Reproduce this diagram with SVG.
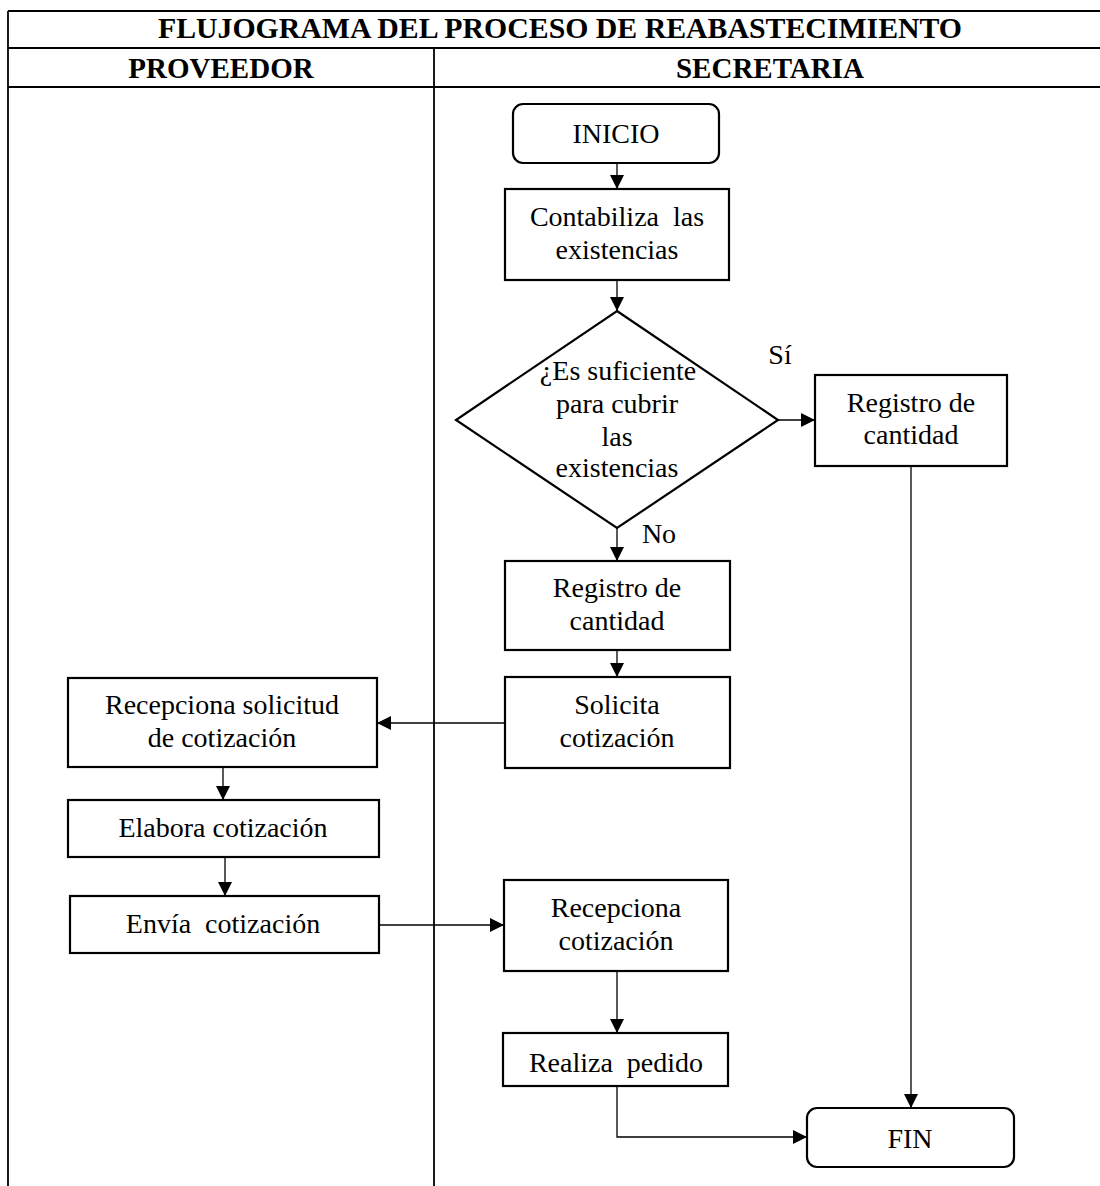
<svg xmlns="http://www.w3.org/2000/svg" width="1100" height="1186" viewBox="0 0 1100 1186">
  <style>
    .grid { stroke: #000; stroke-width: 1.8; fill: none; }
    .box { fill: #fff; stroke: #000; stroke-width: 2.2; }
    .link { fill: none; stroke: #000; stroke-width: 1.3; }
    .head { font-family: "Liberation Serif", "Times New Roman", serif; font-weight: bold; font-size: 29px; text-anchor: middle; fill: #000; }
    .title { font-size: 29.8px; }
    .lbl { font-family: "Liberation Serif", "Times New Roman", serif; font-size: 28px; text-anchor: middle; fill: #000; }
  </style>
  <defs>
    <marker id="arrow" viewBox="0 0 14 14" refX="14" refY="7" markerWidth="14" markerHeight="14" markerUnits="userSpaceOnUse" orient="auto">
      <path d="M0,0 L14,7 L0,14 Z" fill="#000"/>
    </marker>
  </defs>

  <rect width="1100" height="1186" fill="#fff"/>

  <!-- swimlane table -->
  <g id="table">
    <line class="grid" x1="8" y1="11" x2="1100" y2="11"/>
    <line class="grid" x1="8" y1="48" x2="1100" y2="48"/>
    <line class="grid" x1="8" y1="87" x2="1100" y2="87"/>
    <line class="grid" x1="8" y1="11" x2="8" y2="1186"/>
    <line class="grid" x1="434" y1="48" x2="434" y2="1186"/>
    <text class="head title" x="560" y="38">FLUJOGRAMA DEL PROCESO DE REABASTECIMIENTO</text>
    <text class="head" x="221" y="78">PROVEEDOR</text>
    <text class="head" x="770" y="78">SECRETARIA</text>
  </g>

  <!-- connectors -->
  <g id="connectors">
    <line class="link" x1="617" y1="163" x2="617" y2="189" marker-end="url(#arrow)"/>
    <line class="link" x1="617" y1="280" x2="617" y2="311" marker-end="url(#arrow)"/>
    <line class="link" x1="778" y1="420" x2="815" y2="420" marker-end="url(#arrow)"/>
    <line class="link" x1="617" y1="528" x2="617" y2="561" marker-end="url(#arrow)"/>
    <line class="link" x1="617" y1="650" x2="617" y2="677" marker-end="url(#arrow)"/>
    <line class="link" x1="505" y1="723" x2="377" y2="723" marker-end="url(#arrow)"/>
    <line class="link" x1="223" y1="767" x2="223" y2="800" marker-end="url(#arrow)"/>
    <line class="link" x1="225" y1="857" x2="225" y2="896" marker-end="url(#arrow)"/>
    <line class="link" x1="379" y1="925" x2="504" y2="925" marker-end="url(#arrow)"/>
    <line class="link" x1="617" y1="971" x2="617" y2="1033" marker-end="url(#arrow)"/>
    <polyline class="link" points="617,1086 617,1137 807,1137" marker-end="url(#arrow)"/>
    <line class="link" x1="911" y1="466" x2="911" y2="1108" marker-end="url(#arrow)"/>
    <text class="lbl" x="780" y="364">Sí</text>
    <text class="lbl" x="659" y="543">No</text>
  </g>

  <g id="inicio">
    <rect class="box" x="513" y="104" width="206" height="59" rx="10"/>
    <text class="lbl" x="616" y="143">INICIO</text>
  </g>

  <g id="contabiliza">
    <rect class="box" x="505" y="189" width="224" height="91"/>
    <text class="lbl" x="617" y="226" xml:space="preserve">Contabiliza  las</text>
    <text class="lbl" x="617" y="259">existencias</text>
  </g>

  <g id="decision">
    <polygon class="box" points="617,311 778,420 617,528 456,420"/>
    <text class="lbl" x="618" y="380">¿Es suficiente</text>
    <text class="lbl" x="617" y="413">para cubrir</text>
    <text class="lbl" x="617" y="446">las</text>
    <text class="lbl" x="617" y="477">existencias</text>
  </g>

  <g id="registro-si">
    <rect class="box" x="815" y="375" width="192" height="91"/>
    <text class="lbl" x="911" y="412">Registro de</text>
    <text class="lbl" x="911" y="444">cantidad</text>
  </g>

  <g id="registro-no">
    <rect class="box" x="505" y="561" width="225" height="89"/>
    <text class="lbl" x="617" y="597">Registro de</text>
    <text class="lbl" x="617" y="630">cantidad</text>
  </g>

  <g id="solicita">
    <rect class="box" x="505" y="677" width="225" height="91"/>
    <text class="lbl" x="617" y="714">Solicita</text>
    <text class="lbl" x="617" y="747">cotización</text>
  </g>

  <g id="recepciona-solicitud">
    <rect class="box" x="68" y="678" width="309" height="89"/>
    <text class="lbl" x="222" y="714">Recepciona solicitud</text>
    <text class="lbl" x="222" y="747">de cotización</text>
  </g>

  <g id="elabora">
    <rect class="box" x="68" y="800" width="311" height="57"/>
    <text class="lbl" x="223" y="837">Elabora cotización</text>
  </g>

  <g id="envia">
    <rect class="box" x="70" y="896" width="309" height="57"/>
    <text class="lbl" x="223" y="933" xml:space="preserve">Envía  cotización</text>
  </g>

  <g id="recepciona-cotizacion">
    <rect class="box" x="504" y="880" width="224" height="91"/>
    <text class="lbl" x="616" y="917">Recepciona</text>
    <text class="lbl" x="616" y="950">cotización</text>
  </g>

  <g id="realiza">
    <rect class="box" x="503" y="1033" width="225" height="53"/>
    <text class="lbl" x="616" y="1072" xml:space="preserve">Realiza  pedido</text>
  </g>

  <g id="fin">
    <rect class="box" x="807" y="1108" width="207" height="59" rx="10"/>
    <text class="lbl" x="910" y="1148">FIN</text>
  </g>
</svg>
